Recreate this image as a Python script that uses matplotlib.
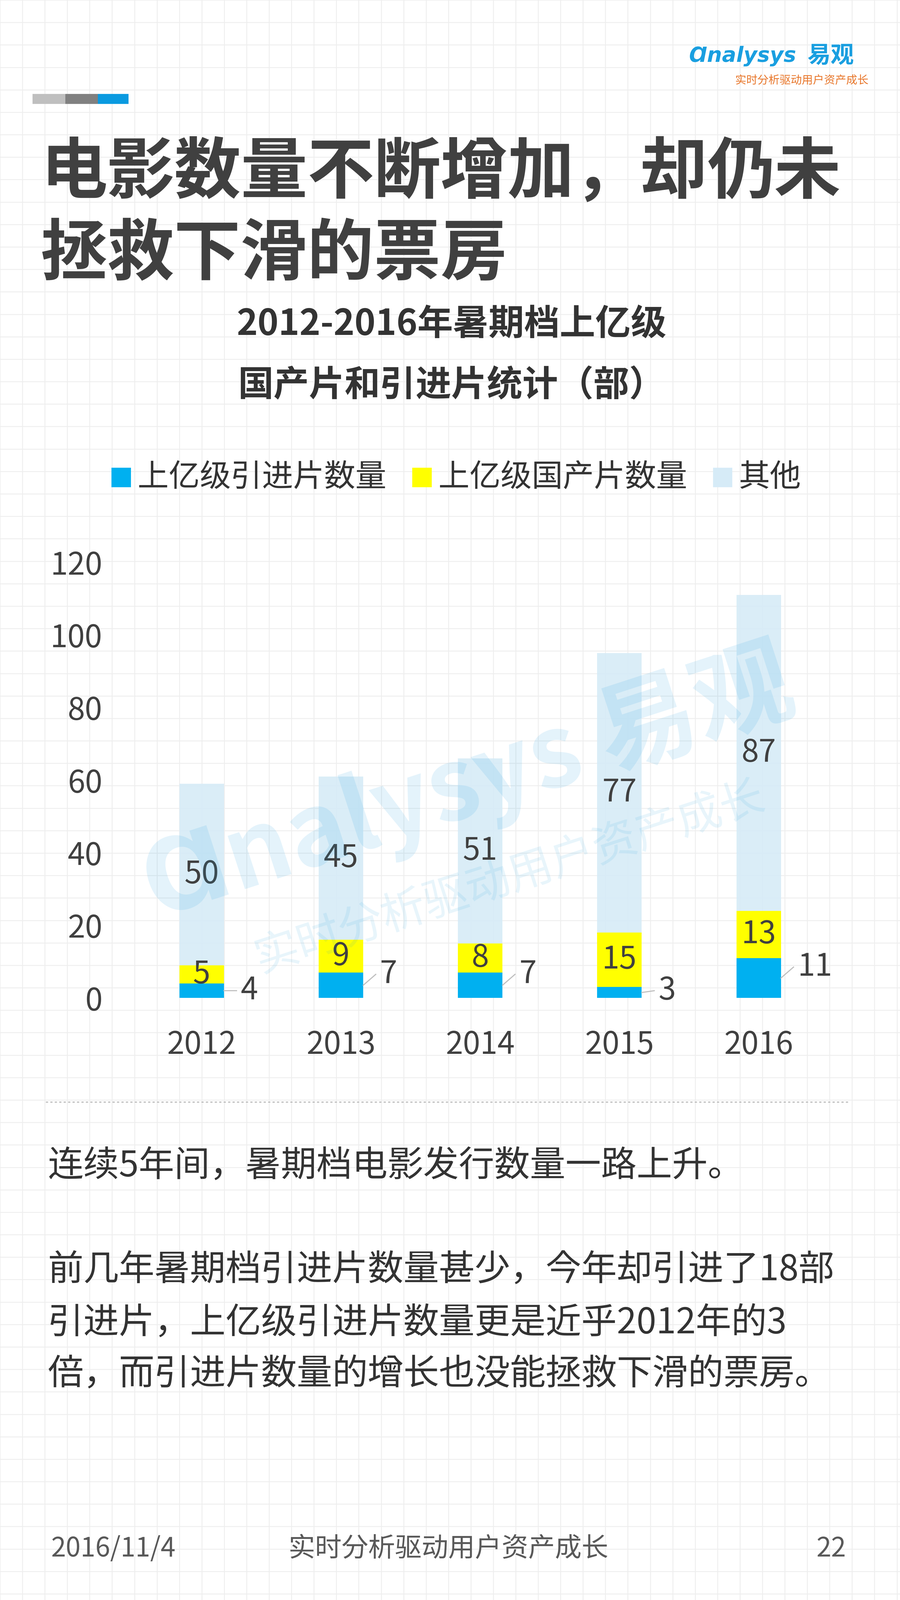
import matplotlib.pyplot as plt
import numpy as np

plt.rcParams['font.family'] = ['Noto Sans CJK SC', 'Noto Sans CJK JP', 'Noto Sans CJK TC', 'DejaVu Sans']

years = ['2012', '2013', '2014', '2015', '2016']
imported = [4, 7, 7, 3, 11]
domestic = [5, 9, 8, 15, 13]
others = [50, 45, 51, 77, 87]
y_ticks = [0, 20, 40, 60, 80, 100, 120]
legend_labels = ['上亿级引进片数量', '上亿级国产片数量', '其他']

W, H = 883, 1568


def fx(x):
    return x / W


def fy(y):
    return 1 - y / H


fig = plt.figure(figsize=(11.25, 20), dpi=300)
fig.patch.set_facecolor('white')

# faint background grid
bg = fig.add_axes([0, 0, 1, 1])
bg.set_xlim(0, W)
bg.set_ylim(H, 0)
bg.axis('off')
for x in np.arange(0, W, 22):
    bg.axvline(x, color='#eeeeee', lw=0.8, zorder=0)
for y in np.arange(0, H, 22):
    bg.axhline(y, color='#eeeeee', lw=0.8, zorder=0)

# header
bg.plot([32, 64], [97, 97], color='#bfbfbf', lw=9, solid_capstyle='butt')
bg.plot([64, 96], [97, 97], color='#808080', lw=9, solid_capstyle='butt')
bg.plot([96, 126], [97, 97], color='#0a9ae0', lw=9, solid_capstyle='butt')
fig.text(fx(676), fy(55), 'Ɑnalysys', color='#1a9fe0', fontsize=19, style='italic',
         fontweight='bold', ha='left', va='center', fontfamily='DejaVu Sans')
fig.text(fx(792), fy(55), '易观', color='#1a9fe0', fontsize=21, fontweight='bold', ha='left', va='center')
fig.text(fx(852), fy(79), '实时分析驱动用户资产成长', color='#e8762a', fontsize=10, ha='right', va='center')

# title
fig.text(fx(40), fy(170), '电影数量不断增加，却仍未', fontsize=60, fontweight='bold', color='#404040', va='center')
fig.text(fx(40), fy(250), '拯救下滑的票房', fontsize=60, fontweight='bold', color='#404040', va='center')
fig.text(fx(443), fy(318), '2012-2016年暑期档上亿级', fontsize=32, fontweight='bold', color='#333333', ha='center', va='center')
fig.text(fx(443), fy(378), '国产片和引进片统计（部）', fontsize=32, fontweight='bold', color='#333333', ha='center', va='center')

# watermark
fig.text(fx(460), fy(770), 'Ɑnalysys 易观', fontsize=90, color='#1a9fe0', alpha=0.12, rotation=18,
         ha='center', va='center', fontweight='bold')
fig.text(fx(500), fy(860), '实时分析驱动用户资产成长', fontsize=40, color='#1a9fe0', alpha=0.10, rotation=18,
         ha='center', va='center')

# legend
colors = ['#00b0f0', '#ffff00', '#d6ebf7']
lx = [110, 405, 700]
for x, c, lab in zip(lx, colors, legend_labels):
    bg.add_patch(plt.Rectangle((x, 459), 18, 18, color=c))
    fig.text(fx(x + 25), fy(468), lab, fontsize=28, color='#333333', va='center')

# chart
ax = fig.add_axes([fx(120), fy(978), fx(840 - 120), (978 - 551) / H])
ax.patch.set_alpha(0)
x = np.arange(len(years))
w = 0.32
imp = np.array(imported)
dom = np.array(domestic)
oth = np.array(others)
ax.bar(x, imp, w, color=colors[0])
ax.bar(x, dom, w, bottom=imp, color=colors[1])
ax.bar(x, oth, w, bottom=imp + dom, color=colors[2], alpha=0.9)
for i in range(len(years)):
    ax.text(x[i], imp[i] + dom[i] + oth[i] / 2, str(oth[i]), ha='center', va='center', fontsize=28, color='#404040')
    ax.text(x[i], imp[i] + dom[i] / 2, str(dom[i]), ha='center', va='center', fontsize=28, color='#404040')
    ly = imp[i] / 2 + 3 if imp[i] > 5 else 2
    ax.plot([x[i] + w / 2, x[i] + 0.25], [imp[i] / 2, ly], color='#bfbfbf', lw=1)
    ax.text(x[i] + 0.28, ly, str(imp[i]), ha='left', va='center', fontsize=28, color='#404040')
ax.set_ylim(0, 120)
ax.set_xlim(-0.57, 4.7)
ax.set_yticks(y_ticks)
ax.set_xticks(x)
ax.set_xticklabels(years)
ax.tick_params(length=0, labelsize=28, labelcolor='#404040')
ax.tick_params(axis='x', pad=28)
ax.tick_params(axis='y', pad=18)
for s in ax.spines.values():
    s.set_visible(False)

# separator
bg.plot([45, 833], [1080, 1080], color='#bbbbbb', lw=1, ls=(0, (2, 2)))

# body text
body = [(1143, '连续5年间，暑期档电影发行数量一路上升。'),
        (1245, '前几年暑期档引进片数量甚少，今年却引进了18部'),
        (1297, '引进片，上亿级引进片数量更是近乎2012年的3'),
        (1347, '倍，而引进片数量的增长也没能拯救下滑的票房。')]
for y, t in body:
    fig.text(fx(47), fy(y), t, fontsize=32, color='#333333', va='center')

# footer
fig.text(fx(50), fy(1518), '2016/11/4', fontsize=24, color='#595959', va='center')
fig.text(fx(440), fy(1518), '实时分析驱动用户资产成长', fontsize=24, color='#595959', va='center', ha='center')
fig.text(fx(830), fy(1518), '22', fontsize=24, color='#595959', va='center', ha='right')

fig.savefig('out.png', dpi=300)
